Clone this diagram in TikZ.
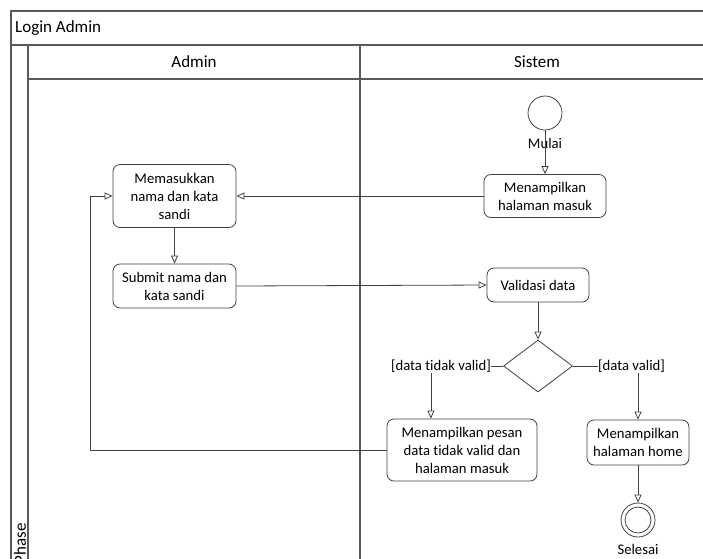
\documentclass[tikz,border=0pt]{standalone}
\usepackage{fontspec}
\setmainfont{Carlito}[Ligatures=NoCommon]
\usetikzlibrary{arrows.meta, positioning, shapes.geometric}

\begin{document}
\begin{tikzpicture}[
    x=1pt, y=-1pt,
    every node/.style={font=\fontsize{14.7}{18}\selectfont},
    head/.style={font=\fontsize{17}{20}\selectfont},
    act/.style={draw=black!75, line width=0.8pt, rounded corners=7pt, align=center, inner sep=2pt},
    arrow/.style={-{Triangle[open, length=8pt, width=7pt]}, draw=black!75, line width=0.8pt},
    lane/.style={draw=black!65, line width=1.2pt}
]
\useasboundingbox (0,0) rectangle (703,558);
\clip (0,0) rectangle (703,558);

% Swimlanes
\draw[lane] (710,11) -- (11,11) -- (11,570);
\draw[lane] (11,45) -- (710,45);
\draw[lane] (28,45) -- (28,570);
\draw[lane] (28,79) -- (710,79);
\draw[lane] (360,45) -- (360,570);
\node[head, anchor=west, inner sep=0] (title) at (15,28) {Login Admin};
\node[head] (admin) at (194,62) {Admin};
\node[head] (sistem) at (537,62) {Sistem};
\node[head, rotate=90, anchor=east, inner sep=0] (phase) at (20,523) {Phase};

% Nodes
\node[draw=black!75, line width=0.8pt, circle, minimum size=34pt, inner sep=0] (start) at (545,113) {};
\node (mulai) at (545,143) {Mulai};
\node[act, minimum width=122pt, minimum height=43pt] (tampil) at (545,196) {Menampilkan\\halaman masuk};
\node[act, minimum width=123pt, minimum height=63pt] (masuk) at (174.5,196) {Memasukkan\\nama dan kata\\sandi};
\node[act, minimum width=123pt, minimum height=44pt] (submit) at (174.5,286) {Submit nama dan\\kata sandi};
\node[act, minimum width=102pt, minimum height=34pt] (validasi) at (538,285) {Validasi data};
\node[diamond, draw=black!75, line width=0.8pt, minimum width=69pt, minimum height=52pt, inner sep=0] (dec) at (538,366) {};
\node[anchor=east, inner sep=0] (tidak) at (491,366) {[data tidak valid]};
\node[anchor=west, inner sep=0] (ya) at (598,366) {[data valid]};
\node[act, minimum width=150pt, minimum height=62pt] (pesan) at (462,450) {Menampilkan pesan\\data tidak valid dan\\halaman masuk};
\node[act, minimum width=102pt, minimum height=45pt] (home) at (638,442.5) {Menampilkan\\halaman home};
\node[draw=black!75, line width=0.8pt, circle, minimum size=34pt, inner sep=0] (end) at (638,520) {};
\node[draw=black!75, line width=0.8pt, circle, minimum size=26pt, inner sep=0] (endin) at (end) {};
\node (selesai) at (638,549) {Selesai};

% Arrows
\draw[arrow] (start) -- (tampil);
\draw[arrow] (tampil.west) -- (masuk.east);
\draw[arrow] (masuk) -- (submit);
\draw[arrow] (submit.east) -- (validasi.west);
\draw[arrow] (validasi) -- (dec);
\draw[draw=black!75, line width=0.8pt] (dec.west) -- (tidak.east);
\draw[draw=black!75, line width=0.8pt] (dec.east) -- (ya.west);
\draw[arrow] ([xshift=-10pt]tidak.south) -- ([xshift=-10pt]tidak.south |- pesan.north);
\draw[arrow] (home.north |- ya.south) -- (home.north);
\draw[arrow] (home) -- (end);
\draw[arrow] (pesan.west) -| ([xshift=-22pt]masuk.west) -- (masuk.west);

\end{tikzpicture}
\end{document}
